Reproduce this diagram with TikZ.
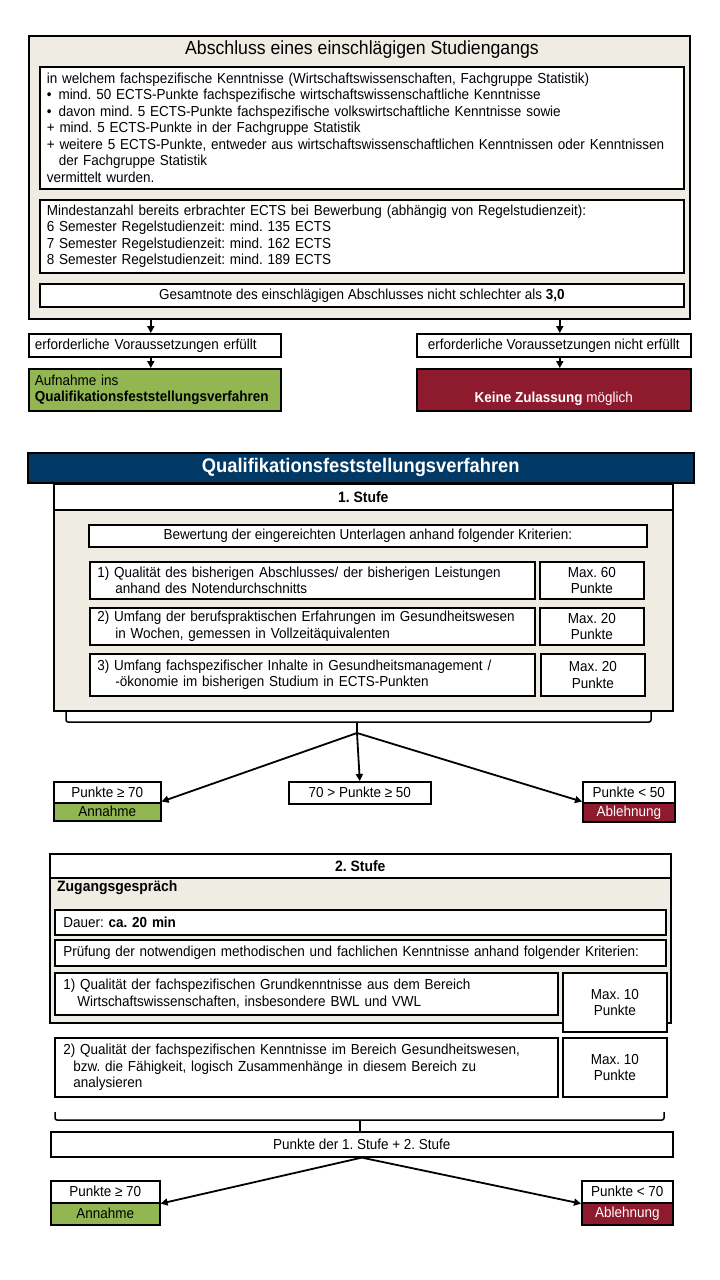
\documentclass[tikz,border=0pt]{standalone}
\usepackage{fontspec}
\setmainfont{Liberation Sans}[FakeStretch=0.93]
\usepackage{tikz}
\usetikzlibrary{arrows.meta}

\definecolor{panelbeige}{RGB}{238,236,227}
\definecolor{navy}{RGB}{0,56,102}
\definecolor{okgreen}{RGB}{146,182,82}
\definecolor{nored}{RGB}{142,26,46}
\frenchspacing

\begin{document}
\begin{tikzpicture}[x=1pt, y=-1pt,
  box/.style={draw, line width=1.6pt, fill=white, inner sep=0pt, anchor=north west},
  panel/.style={box, fill=panelbeige},
  txt/.style={font=\fontsize{14.5}{16.5}\selectfont},
  head/.style={font=\bfseries\fontsize{15}{17}\selectfont},
  arr/.style={line width=1.8pt, -{Triangle[width=7pt,length=7pt]}},
  brace/.style={line width=1.5pt, rounded corners=2pt}]
\useasboundingbox (0,0) rectangle (720,1280);

% Abschluss
\node[panel, minimum width=661pt, minimum height=283pt] (abschluss) at (28,35) {};
\node[font=\fontsize{19}{22}\selectfont] (titel) at (362,50) {Abschluss eines einschlägigen Studiengangs};
\node[box, txt, minimum width=644pt, minimum height=122pt, text width=630pt, align=left] (inhalt) at (39,66)
  {in welchem fachspezifische Kenntnisse (Wirtschaftswissenschaften, Fachgruppe Statistik)\\
   •\hspace{7pt}mind. 50 ECTS-Punkte fachspezifische wirtschaftswissenschaftliche Kenntnisse\\
   •\hspace{7pt}davon mind. 5 ECTS-Punkte fachspezifische volkswirtschaftliche Kenntnisse sowie\\
   + mind. 5 ECTS-Punkte in der Fachgruppe Statistik\\
   + weitere 5 ECTS-Punkte, entweder aus wirtschaftswissenschaftlichen Kenntnissen oder Kenntnissen\\
   \hspace*{12pt}der Fachgruppe Statistik\\
   vermittelt wurden.};
\node[box, txt, minimum width=644pt, minimum height=73pt, text width=630pt, align=left] (ects) at (39,199)
  {Mindestanzahl bereits erbrachter ECTS bei Bewerbung (abhängig von Regelstudienzeit):\\
   6 Semester Regelstudienzeit: mind. 135 ECTS\\
   7 Semester Regelstudienzeit: mind. 162 ECTS\\
   8 Semester Regelstudienzeit: mind. 189 ECTS};
\node[box, txt, minimum width=644pt, minimum height=23pt] (note) at (39,283)
  {Gesamtnote des einschlägigen Abschlusses nicht schlechter als \textbf{3,0}};

\node[box, txt, minimum width=252pt, minimum height=23pt, text width=240pt, align=left] (erfuellt) at (28,333)
  {erforderliche Voraussetzungen erfüllt};
\node[box, txt, fill=okgreen, minimum width=252pt, minimum height=42pt, text width=240pt, align=left] (aufnahme) at (28,368)
  {Aufnahme ins\\\textbf{Qualifikationsfeststellungsverfahren}};
\node[box, txt, minimum width=274pt, minimum height=23pt] (nichterfuellt) at (416,333)
  {erforderliche Voraussetzungen nicht erfüllt};
\node[box, txt, fill=nored, text=white, minimum width=274pt, minimum height=42pt, align=center] (keine) at (416,368)
  {\strut\\\textbf{Keine Zulassung} möglich};

\draw[arr] ([xshift=-4pt]erfuellt.north |- abschluss.south) -- ([xshift=-4pt]erfuellt.north);
\draw[arr] ([xshift=-4pt]erfuellt.south) -- ([xshift=-4pt]aufnahme.north);
\draw[arr] ([xshift=6pt]nichterfuellt.north |- abschluss.south) -- ([xshift=6pt]nichterfuellt.north);
\draw[arr] ([xshift=6pt]nichterfuellt.south) -- ([xshift=6pt]keine.north);

% Qualifikationsfeststellungsverfahren
\node[box, fill=navy, text=white, font=\bfseries\fontsize{19.7}{22}\selectfont, minimum width=666pt, minimum height=30pt] (qfv) at (27,452)
  {Qualifikationsfeststellungsverfahren};

% 1. Stufe
\node[box, head, minimum width=619pt, minimum height=26pt] (stufe1) at (53,483) {1. Stufe};
\node[panel, minimum width=619pt, minimum height=201pt] (stufe1body) at (53,509) {};
\node[box, txt, minimum width=558pt, minimum height=22pt] (bewertung) at (88,524)
  {Bewertung der eingereichten Unterlagen anhand folgender Kriterien:};
\node[box, txt, minimum width=445pt, minimum height=37pt, text width=430pt, align=left] (krit1) at (89,561)
  {1) Qualität des bisherigen Abschlusses/ der bisherigen Leistungen\\\hspace*{18pt}anhand des Notendurchschnitts};
\node[box, txt, minimum width=104pt, minimum height=37pt, align=center] (max1) at (539,561) {Max. 60\\Punkte};
\node[box, txt, minimum width=445pt, minimum height=37pt, text width=430pt, align=left] (krit2) at (89,607)
  {2) Umfang der berufspraktischen Erfahrungen im Gesundheitswesen\\\hspace*{18pt}in Wochen, gemessen in Vollzeitäquivalenten};
\node[box, txt, minimum width=104pt, minimum height=37pt, align=center] (max2) at (539,607) {Max. 20\\Punkte};
\node[box, txt, minimum width=445pt, minimum height=42pt, text width=430pt, align=left] (krit3) at (89,653)
  {3) Umfang fachspezifischer Inhalte in Gesundheitsmanagement /\\\hspace*{18pt}-ökonomie im bisherigen Studium in ECTS-Punkten};
\node[box, txt, minimum width=104pt, minimum height=42pt, align=center] (max3) at (540,653) {Max. 20\\Punkte};

\draw[brace] (66,712) -- (66,722) -- (651,722) -- (651,712);
\coordinate (gabel1) at (357,733);
\draw[brace] (357,722) -- (gabel1);

\node[box, txt, minimum width=107pt, minimum height=21pt] (ja1) at (53,781) {Punkte ≥ 70};
\node[box, txt, fill=okgreen, minimum width=107pt, minimum height=18pt] (annahme1) at (53,802) {Annahme};
\node[box, txt, minimum width=142pt, minimum height=22pt] (mitte1) at (288,781) {70 > Punkte ≥ 50};
\node[box, txt, minimum width=92pt, minimum height=21pt] (nein1) at (582,781) {Punkte < 50};
\node[box, txt, fill=nored, text=white, minimum width=92pt, minimum height=19pt] (ablehnung1) at (582,802) {Ablehnung};

\draw[arr] (gabel1) -- ([yshift=2pt]ja1.south east);
\draw[arr] (gabel1) -- (mitte1.north);
\draw[arr] (gabel1) -- ([yshift=2pt]nein1.south west);

% 2. Stufe
\node[box, head, minimum width=621pt, minimum height=24pt] (stufe2) at (49,853) {2. Stufe};
\node[panel, minimum width=621pt, minimum height=145pt] (stufe2body) at (49,877) {};
\node[head, anchor=west, inner sep=0pt] (gespraech) at (57,888) {Zugangsgespräch};
\node[box, txt, minimum width=611pt, minimum height=25pt, text width=594pt, align=left] (dauer) at (54,909)
  {Dauer: \textbf{ca. 20 min}};
\node[box, txt, minimum width=611pt, minimum height=26pt, text width=594pt, align=left] (pruefung) at (54,939)
  {Prüfung der notwendigen methodischen und fachlichen Kenntnisse anhand folgender Kriterien:};
\node[box, txt, minimum width=503pt, minimum height=42pt, text width=486pt, align=left] (grund1) at (54,972)
  {1) Qualität der fachspezifischen Grundkenntnisse aus dem Bereich\\\hspace*{14pt}Wirtschaftswissenschaften, insbesondere BWL und VWL};
\node[box, txt, minimum width=104pt, minimum height=59pt, align=center] (gmax1) at (562,972) {Max. 10\\Punkte};
\node[box, txt, minimum width=503pt, minimum height=59pt, text width=486pt, align=left] (grund2) at (54,1037)
  {2) Qualität der fachspezifischen Kenntnisse im Bereich Gesundheitswesen,\\\hspace*{10pt}bzw. die Fähigkeit, logisch Zusammenhänge in diesem Bereich zu\\\hspace*{10pt}analysieren};
\node[box, txt, minimum width=104pt, minimum height=59pt, align=center] (gmax2) at (562,1037) {Max. 10\\Punkte};

\draw[brace] (55,1112) -- (55,1120) -- (664,1120) -- (664,1112);
\coordinate (gabel2) at (360,1131);
\draw[brace] (360,1120) -- (gabel2);

\node[box, txt, minimum width=622pt, minimum height=25pt] (summe) at (50,1131) {Punkte der 1. Stufe + 2. Stufe};

\node[box, txt, minimum width=109pt, minimum height=22pt] (ja2) at (50,1180) {Punkte ≥ 70};
\node[box, txt, fill=okgreen, minimum width=109pt, minimum height=22pt] (annahme2) at (50,1202) {Annahme};
\node[box, txt, minimum width=91pt, minimum height=22pt] (nein2) at (581,1180) {Punkte < 70};
\node[box, txt, fill=nored, text=white, minimum width=91pt, minimum height=22pt] (ablehnung2) at (581,1202) {Ablehnung};

\draw[arr] (summe.south) -- (ja2.south east);
\draw[arr] (summe.south) -- (nein2.south west);
\end{tikzpicture}
\end{document}
